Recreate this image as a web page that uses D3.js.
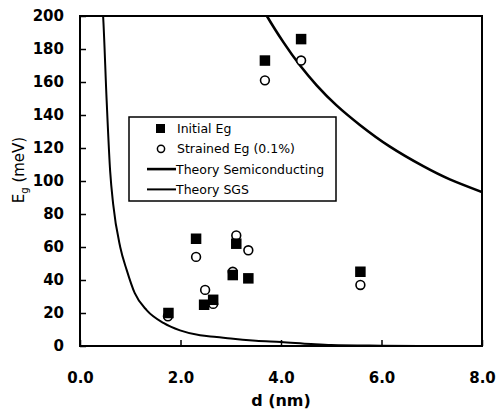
<!DOCTYPE html>
<html lang="en">
<head>
    <meta charset="UTF-8">
    <title>Eg vs d</title>
    <style>
        html, body {
            margin: 0;
            padding: 0;
            background: #fff;
        }

        text {
            font-family: "DejaVu Sans", Verdana, sans-serif;
        }
    </style>
</head>
<body>
<div id="chart"></div>
<script src="https://cdn.jsdelivr.net/npm/d3@7"></script>
<script>
    // measured points
    const initialD = [1.76, 2.31, 2.47, 2.65, 3.04, 3.11, 3.35, 3.68, 4.40, 5.58]
    const initialEg = [20, 65, 25, 28, 43, 62, 41, 173, 186, 45]
    const strainedD = [1.75, 2.31, 2.49, 2.65, 3.04, 3.11, 3.35, 3.68, 4.40, 5.58]
    const strainedEg = [18, 54, 34, 25.5, 45, 67, 58, 161, 173, 37]

    // theory curves
    const semiD = [3.66, 3.72, 4.05, 4.38, 4.71, 5.10, 5.57, 6.16, 6.83, 7.36, 8.0]
    const semiEg = [204, 200, 184, 170, 158, 146, 134, 121, 109, 101, 93.3]
    const sgsD = [0.45, 0.46, 0.53, 0.60, 0.66, 0.80, 0.93, 1.09, 1.33, 1.66, 1.99, 2.39, 2.72, 3.0, 3.5, 4.0, 4.6, 5.0, 6.0, 6.8]
    const sgsEg = [205, 200, 149, 106, 86, 60, 46, 32, 21.6, 14, 9.5, 6.5, 5.5, 4.5, 3.2, 2.4, 1.2, 0.6, 0.2, 0]

    const xTicks = [0, 2, 4, 6, 8]
    const yTicks = [0, 20, 40, 60, 80, 100, 120, 140, 160, 180, 200]
    const legendLabels = ['Initial Eg', 'Strained Eg (0.1%)', 'Theory Semiconducting', 'Theory SGS']

    const width = 497, height = 415
    const margin = {top: 16, right: 15, bottom: 69, left: 80}
    const plotW = width - margin.left - margin.right
    const plotH = height - margin.top - margin.bottom

    const svg = d3.select('#chart').append('svg')
        .attr('width', width)
        .attr('height', height)

    const x = d3.scaleLinear().domain([0, 8]).range([0, plotW])
    const y = d3.scaleLinear().domain([0, 200]).range([plotH, 0])

    const g = svg.append('g').attr('transform', `translate(${margin.left},${margin.top})`)

    g.append('clipPath').attr('id', 'clip')
        .append('rect').attr('width', plotW).attr('height', plotH)

    // axes: ticks point inwards
    const xAxis = d3.axisBottom(x).tickValues(xTicks).tickFormat(d3.format('.1f')).tickSize(-6).tickPadding(26)
    const yAxis = d3.axisLeft(y).tickValues(yTicks).tickSize(-6).tickPadding(16)

    g.append('g').attr('transform', `translate(0,${plotH})`).call(xAxis)
    g.append('g').call(yAxis)

    g.selectAll('.domain').remove()
    g.selectAll('.tick line').attr('stroke', '#000').attr('stroke-width', 1.5)
    g.selectAll('.tick text')
        .attr('fill', '#000')
        .attr('font-size', 15)
        .attr('font-weight', 'bold')
        .attr('font-family', '"DejaVu Sans", Verdana, sans-serif')

    // curves
    const smooth = d3.line().x(d => x(d[0])).y(d => y(d[1])).curve(d3.curveNatural)
    const plain = d3.line().x(d => x(d[0])).y(d => y(d[1])).curve(d3.curveMonotoneX)
    const curves = g.append('g').attr('clip-path', 'url(#clip)')

    curves.append('path')
        .datum(semiD.map((d, i) => [d, semiEg[i]]))
        .attr('d', smooth)
        .attr('fill', 'none')
        .attr('stroke', '#000')
        .attr('stroke-width', 2.6)

    curves.append('path')
        .datum(sgsD.map((d, i) => [d, sgsEg[i]]))
        .attr('d', plain)
        .attr('fill', 'none')
        .attr('stroke', '#000')
        .attr('stroke-width', 2)

    // points: circles first, squares on top
    g.selectAll('circle.strained')
        .data(strainedD.map((d, i) => [d, strainedEg[i]]))
        .enter().append('circle')
        .classed('strained', true)
        .attr('cx', d => x(d[0]))
        .attr('cy', d => y(d[1]))
        .attr('r', 4.4)
        .attr('fill', '#fff')
        .attr('stroke', '#000')
        .attr('stroke-width', 1.6)

    const sq = 10.5
    g.selectAll('rect.initial')
        .data(initialD.map((d, i) => [d, initialEg[i]]))
        .enter().append('rect')
        .classed('initial', true)
        .attr('x', d => x(d[0]) - sq / 2)
        .attr('y', d => y(d[1]) - sq / 2)
        .attr('width', sq)
        .attr('height', sq)
        .attr('fill', '#000')

    // frame
    g.append('rect')
        .attr('width', plotW)
        .attr('height', plotH)
        .attr('fill', 'none')
        .attr('stroke', '#000')
        .attr('stroke-width', 2)

    // legend
    const legend = g.append('g').attr('transform', `translate(${129 - margin.left},${117 - margin.top})`)
    legend.append('rect')
        .attr('width', 207)
        .attr('height', 84)
        .attr('fill', '#fff')
        .attr('stroke', '#000')
        .attr('stroke-width', 1.5)

    const rowY = i => 11.5 + i * 20.3
    legend.append('rect').attr('x', 27).attr('y', rowY(0) - 4.5).attr('width', 9).attr('height', 9).attr('fill', '#000')
    legend.append('circle').attr('cx', 32).attr('cy', rowY(1)).attr('r', 3.6)
        .attr('fill', '#fff').attr('stroke', '#000').attr('stroke-width', 1.5)
    legend.append('line').attr('x1', 18).attr('x2', 47).attr('y1', rowY(2)).attr('y2', rowY(2))
        .attr('stroke', '#000').attr('stroke-width', 2.6)
    legend.append('line').attr('x1', 18).attr('x2', 47).attr('y1', rowY(3)).attr('y2', rowY(3))
        .attr('stroke', '#000').attr('stroke-width', 2)

    legend.selectAll('text.lab')
        .data(legendLabels)
        .enter().append('text')
        .classed('lab', true)
        .attr('x', (d, i) => i < 2 ? 48 : 47)
        .attr('y', (d, i) => rowY(i))
        .attr('dy', '0.36em')
        .attr('font-size', 12.5)
        .attr('fill', '#000')
        .text(d => d)

    // axis titles
    svg.append('text')
        .attr('x', margin.left + plotW / 2)
        .attr('y', 406)
        .attr('text-anchor', 'middle')
        .attr('font-size', 16)
        .attr('font-weight', 'bold')
        .text('d (nm)')

    const yTitle = svg.append('text')
        .attr('transform', 'translate(24,170) rotate(-90)')
        .attr('text-anchor', 'middle')
        .attr('font-size', 15)
        .text('E')
    yTitle.append('tspan').attr('font-size', 10).attr('dy', 4).text('g')
    yTitle.append('tspan').attr('dy', -4).text(' (meV)')
</script>
</body>
</html>
